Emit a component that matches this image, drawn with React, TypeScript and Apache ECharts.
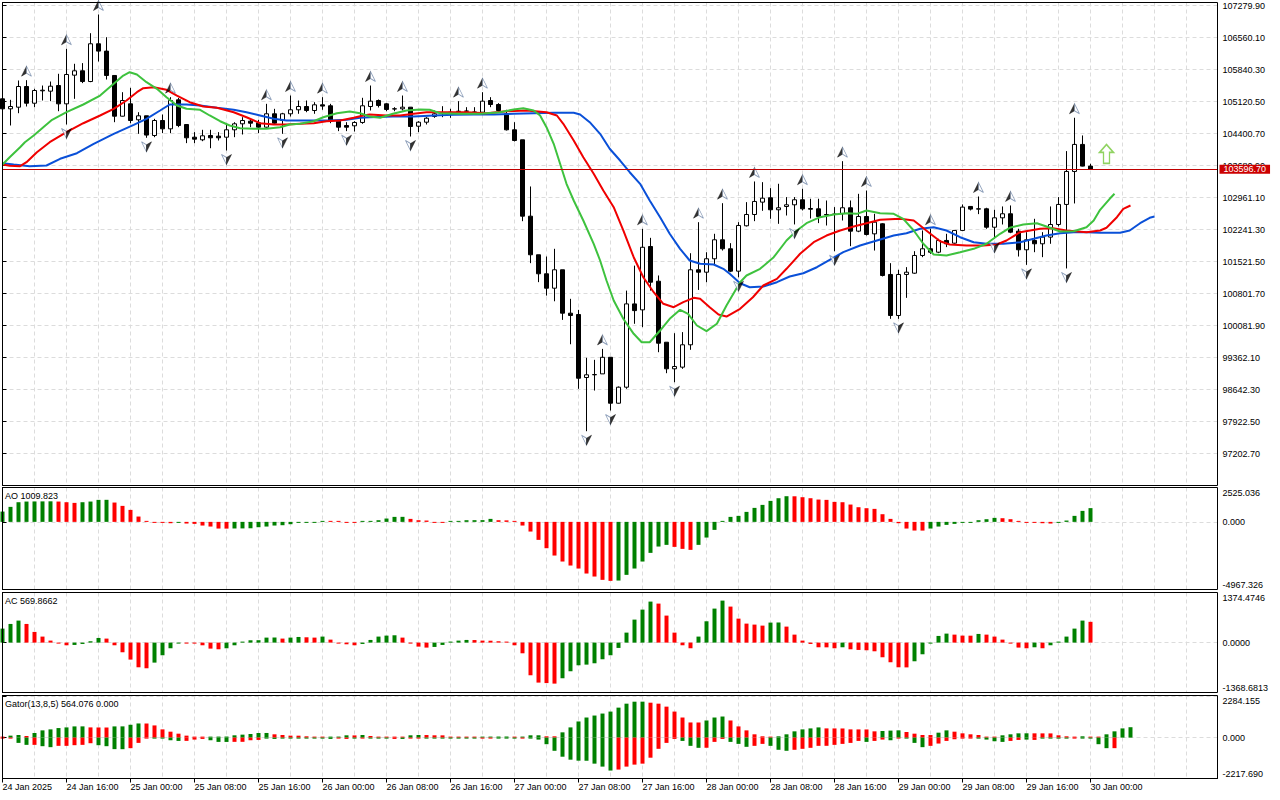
import React, { useEffect, useRef } from "react";
import * as echarts from "echarts";

const FONT = "'Liberation Sans', Arial, sans-serif";
const GREEN = "#008000";
const RED = "#ff0000";

// ---------- time axis ----------
const TIME_LABELS = [
  "24 Jan 2025", "24 Jan 16:00", "25 Jan 00:00", "25 Jan 08:00", "25 Jan 16:00",
  "26 Jan 00:00", "26 Jan 08:00", "26 Jan 16:00", "27 Jan 00:00", "27 Jan 08:00",
  "27 Jan 16:00", "28 Jan 00:00", "28 Jan 08:00", "28 Jan 16:00", "29 Jan 00:00",
  "29 Jan 08:00", "29 Jan 16:00", "30 Jan 00:00",
];
const BARS_PER_LABEL = 8;

// ---------- candles (H1) ----------
const OPEN = [
  105181, 104956, 104993, 105458, 105082, 105361, 105353, 105480, 105068, 105713,
  105811, 105570, 106419, 106254, 105706, 104790, 105068, 104709, 104799, 104356,
  104693, 104506, 105158, 104603, 104318, 104259, 104356, 104341, 104318, 104484,
  104619, 104678, 104641, 104543, 104844, 104693, 104844, 104934, 105008, 104918,
  105046, 105024, 104678, 104581, 104574, 104649, 105008, 105143, 105068, 104956,
  104956, 104993, 104565, 104655, 104783, 104857, 104873, 104896, 104902, 104880,
  104880, 105143, 105053, 104844, 104484, 104259, 102541, 101673, 101245, 100921,
  101335, 100359, 100329, 98912, 98973, 98994, 99367, 98334, 98694, 100568,
  100434, 101859, 101078, 99706, 99108, 99145, 99648, 101335, 101281, 101583,
  102010, 101808, 101304, 102325, 102579, 102857, 102955, 102685, 102759, 102797,
  102910, 102714, 102707, 102579, 102579, 102595, 102730, 102204, 102534, 102144,
  102370, 101230, 100307, 101230, 101259, 101657, 101808, 101731, 101995, 101934,
  102220, 102760, 102707, 102707, 102293, 102504, 102595, 102204, 101785, 101995,
  101920, 102070, 102354, 102805, 103547, 104155, 103667,
];
const HIGH = [
  105204, 105158, 105593, 105600, 105406, 105480, 105570, 105744, 106306, 105969,
  105984, 106657, 107078, 106567, 105706, 105330, 105428, 104880, 104799, 104731,
  104828, 105218, 105200, 104603, 104432, 104484, 104484, 104432, 104603, 104655,
  104768, 104731, 104709, 105068, 104956, 104866, 105255, 105143, 105143, 105105,
  105218, 105068, 104693, 104655, 104678, 105204, 105480, 105166, 105083, 104993,
  105255, 104993, 104678, 104768, 104918, 105015, 104956, 105128, 104993, 104993,
  105330, 105218, 105083, 104934, 104655, 104259, 103209, 101673, 101634, 101807,
  101335, 100682, 100434, 99355, 99310, 99556, 99367, 98710, 100867, 101429,
  102256, 102054, 101207, 99706, 99909, 99933, 101708, 102406, 101730, 102145,
  102833, 101934, 102406, 102857, 103322, 103306, 103171, 103270, 102970, 102970,
  103158, 102933, 102933, 102894, 102745, 103778, 102894, 103044, 103118, 102594,
  102384, 101484, 101335, 101395, 101754, 102220, 102258, 102032, 102145, 102220,
  102805, 102760, 102984, 102730, 102685, 102760, 102782, 102258, 102181, 102482,
  102181, 102760, 102970, 104005, 104755, 104357, 103720,
];
const LOW = [
  104941, 104581, 104857, 105008, 104993, 105143, 105128, 104902, 104603, 105181,
  105534, 105555, 106020, 105615, 104655, 104783, 104632, 104394, 104304, 104318,
  104409, 104409, 104543, 104184, 104184, 104228, 104070, 104243, 104018, 104318,
  104378, 104543, 104409, 104529, 104603, 104394, 104783, 104844, 104880, 104844,
  104934, 104633, 104454, 104454, 104446, 104619, 104918, 104986, 104902, 104902,
  104918, 104333, 104430, 104603, 104754, 104768, 104754, 104844, 104844, 104844,
  104857, 104993, 104880, 104468, 104221, 102428, 101484, 101057, 100755, 100627,
  100208, 99660, 98658, 97704, 98619, 98994, 98169, 98327, 98658, 100120,
  100045, 100867, 99481, 99009, 98806, 99108, 99535, 100882, 101055, 101453,
  101768, 101282, 101166, 102309, 102429, 102662, 102482, 102369, 102556, 102355,
  102670, 102489, 102385, 102331, 101752, 102444, 101866, 102181, 102106, 101768,
  101185, 100232, 100232, 100704, 101245, 101619, 101694, 101709, 101845, 101920,
  102204, 102670, 102587, 102257, 102032, 102354, 102159, 101633, 101446, 101731,
  101619, 101920, 102309, 101365, 102827, 103660, 103596.7,
];
const CLOSE = [
  104956, 105008, 105458, 105082, 105368, 105375, 105465, 105068, 105728, 105811,
  105570, 106419, 106254, 105706, 104790, 105143, 104693, 104799, 104365, 104693,
  104506, 105143, 104581, 104304, 104273, 104349, 104304, 104304, 104484, 104619,
  104693, 104633, 104543, 104844, 104633, 104844, 104934, 105008, 104918, 105046,
  105017, 104693, 104543, 104543, 104649, 105024, 105128, 105031, 104941, 104952,
  104993, 104558, 104655, 104745, 104844, 104866, 104880, 104902, 104906, 104884,
  105128, 105053, 104918, 104484, 104243, 102541, 101673, 101245, 100921, 101335,
  100359, 100307, 98896, 98973, 98979, 99367, 98334, 98694, 100568, 100417,
  101842, 101056, 99684, 99108, 99160, 99648, 101335, 101281, 101583, 102010,
  101808, 101304, 102332, 102579, 102872, 102946, 102685, 102730, 102797, 102910,
  102707, 102698, 102534, 102570, 102590, 102730, 102204, 102534, 102129, 102406,
  101207, 100307, 101230, 101281, 101657, 101808, 101731, 101995, 101920, 102220,
  102745, 102700, 102700, 102293, 102504, 102595, 102181, 101785, 102010, 101920,
  102070, 102354, 102805, 103547, 104155, 103667, 103596.7,
];
const LAST_PRICE = 103596.7;

// ---------- Bill Williams fractals (bar indices) ----------
const FRACTAL_UP_BARS = [3, 8, 12, 21, 33, 36, 40, 46, 50, 57, 60, 75, 80, 87, 90, 94, 100, 105, 108, 116, 122, 126, 134];
const FRACTAL_DOWN_BARS = [8, 18, 28, 35, 43, 51, 73, 76, 84, 92, 99, 104, 112, 124, 128, 133];
const SIGNAL_UP = [[138, 103940]];

// ---------- Alligator [bar, price] ----------
const JAW = [
  [0, 103733], [1.4, 103703], [3.4, 103666], [5.5, 103681], [7.2, 103832], [9.3, 103958], [11.4, 104169],
  [13.9, 104394], [16.4, 104596], [18, 104731], [19.7, 104918], [20.9, 105053], [23, 105053], [24.7, 105031],
  [26.8, 104979], [28.9, 104934], [30.5, 104880], [32.2, 104806], [33.9, 104731], [35.5, 104693], [37.2, 104693],
  [39.3, 104693], [40.9, 104693], [43, 104709], [44.7, 104754], [45.9, 104767], [48.8, 104783], [51.4, 104783],
  [53.9, 104806], [56.4, 104821], [58.9, 104828], [61.4, 104828], [63.9, 104844], [66.4, 104857], [68.9, 104866],
  [71.4, 104866], [72.2, 104828], [73.4, 104655], [74.7, 104394], [75.9, 104057], [77.2, 103793], [78.4, 103530],
  [79.7, 103269], [80.9, 102894], [82.2, 102518], [83.4, 102145], [84.7, 101807], [85.9, 101544], [87.2, 101470],
  [88.9, 101454], [90.1, 101357], [90.9, 101245], [92.2, 101033], [93.4, 100943], [95.1, 100959], [96.8, 101056],
  [98.4, 101184], [100.1, 101258], [101.8, 101393], [103.4, 101560], [105.1, 101731], [107.2, 101881], [109.3, 101994],
  [111.4, 102106], [113, 102158], [114.7, 102257], [116.4, 102293], [118, 102219], [119.7, 102068], [121.4, 101956],
  [123, 101920], [125.1, 101920], [127.2, 101956], [128.9, 102032], [130.5, 102106], [132.2, 102158], [133.9, 102181],
  [135.5, 102181], [137.2, 102167], [139.7, 102167], [140.9, 102219], [142.2, 102383], [143.4, 102504], [144, 102534],
];
const TEETH = [
  [0, 103703], [0.9, 103674], [2.2, 103666], [3, 103755], [4.3, 103980], [5.9, 104205], [8, 104430], [10.1, 104632],
  [12.2, 104806], [13.9, 104956], [15.5, 105143], [16.8, 105330], [17.6, 105420], [18.9, 105442], [20.5, 105384],
  [21.8, 105255], [23.4, 105105], [25.1, 105008], [26.8, 104979], [28.9, 104880], [30.5, 104767], [32.2, 104632],
  [33.9, 104603], [35.5, 104603], [37.2, 104619], [38.9, 104632], [40.5, 104677], [42.2, 104693], [43.9, 104754],
  [45.1, 104806], [45.9, 104828], [48, 104806], [49.7, 104806], [51.4, 104844], [53, 104880], [55.5, 104880],
  [58, 104880], [60.5, 104857], [63, 104902], [65.5, 104918], [68, 104880], [69.3, 104806], [70.1, 104619],
  [71.4, 104243], [72.6, 103868], [73.9, 103494], [75.1, 103119], [76.4, 102743], [77.6, 102220], [78.9, 101618],
  [80.1, 101168], [81.4, 100831], [82.6, 100570], [83.9, 100493], [85.1, 100606], [86.4, 100705], [87.2, 100682],
  [88.4, 100493], [89.5, 100329], [90.5, 100284], [92.2, 100457], [93.8, 100718], [95.1, 100982], [96.8, 101132],
  [98, 101357], [99.7, 101695], [101.4, 101956], [103, 102106], [104.7, 102219], [106.4, 102309], [108, 102383],
  [109.7, 102459], [112.2, 102482], [113.9, 102444], [114.7, 102331], [115.9, 102158], [117.2, 101978], [118.4, 101904],
  [120.5, 101881], [122.6, 101881], [124.3, 101904], [125.5, 101994], [127.2, 102181], [129.7, 102257], [131.3, 102271],
  [133, 102219], [135.5, 102181], [137.2, 102219], [138, 102280], [139.3, 102518], [140.1, 102707], [141, 102781],
];
const LIPS = [
  [0, 103703], [0.9, 103868], [2.2, 104092], [2.8, 104205], [3.9, 104356], [5.1, 104542], [6.2, 104709], [8, 104880],
  [10.1, 105053], [12.2, 105255], [13.9, 105519], [15.1, 105705], [15.9, 105780], [16.8, 105728], [18, 105555],
  [19.3, 105406], [20.5, 105217], [21.8, 105031], [23, 104956], [24.7, 104934], [25.9, 104806], [27.2, 104677],
  [28.4, 104581], [29.7, 104520], [31.4, 104506], [33, 104506], [34.7, 104542], [35.9, 104603], [37.2, 104619],
  [38.9, 104677], [40.1, 104767], [41.8, 104857], [43.4, 104896], [44.7, 104857], [45.9, 104783], [47.2, 104754],
  [48.8, 104844], [50.5, 104918], [52.2, 104941], [53.4, 104934], [54.7, 104857], [57.2, 104844], [59.7, 104844],
  [62.2, 104880], [63.9, 104941], [65.1, 104970], [66.4, 104918], [67.2, 104806], [68, 104542], [68.9, 104169],
  [69.7, 103719], [70.5, 103269], [71.4, 102894], [72.6, 102444], [73.9, 101920], [74.7, 101544], [75.5, 101094],
  [76.4, 100644], [77.6, 100233], [78.9, 99895], [79.9, 99706], [80.9, 99706], [82.2, 99969], [83.4, 100233],
  [84.7, 100435], [85.7, 100345], [86.8, 100082], [88, 99954], [89.3, 100120], [90.5, 100532], [92.2, 101056],
  [93, 101207], [94.7, 101357], [96.4, 101618], [98, 101994], [99.3, 102219], [100.5, 102383], [102.2, 102518],
  [103.9, 102579], [105.5, 102608], [106.8, 102593], [108, 102669], [109.7, 102608], [111.4, 102593], [112.6, 102482],
  [113.9, 102219], [115.1, 101920], [116.4, 101679], [118, 101656], [119.7, 101731], [121.4, 101807], [123, 101920],
  [124.7, 102145], [125.9, 102280], [127.6, 102354], [129.3, 102383], [130.5, 102309], [132.2, 102196], [133.9, 102203],
  [135.5, 102293], [136.4, 102444], [137.2, 102684], [138.4, 102932], [139, 103044],
];

// ---------- Awesome Oscillator ----------
const AO = [
  757, 1102, 1444, 1493, 1500, 1505, 1510, 1493, 1444, 1395,
  1444, 1493, 1616, 1620, 1420, 1175, 881, 392, 73, -24,
  -73, -98, -20, -122, -147, -269, -343, -490, -495, -485,
  -480, -470, -392, -343, -269, -245, -171, -24, -20, -18,
  73, 70, 60, 0, -24, 24, 73, 122, 245, 367,
  370, 220, 122, 98, 0, -24, 49, 60, 122, 125,
  128, 220, 122, 110, 49, -269, -710, -1322, -1934, -2473,
  -2913, -3207, -3427, -3794, -4015, -4259, -4333, -4309, -3892, -3427,
  -2913, -2277, -1812, -1689, -1836, -1983, -2056, -1689, -1151, -588,
  73, 367, 441, 734, 1028, 1248, 1542, 1738, 1885, 1880,
  1812, 1738, 1640, 1616, 1469, 1444, 1273, 1077, 1004, 955,
  563, 220, -98, -490, -636, -640, -490, -343, -220, -147,
  -73, -24, 122, 196, 294, 269, 196, 49, -49, -55,
  -98, -122, -24, 98, 441, 808, 1010,
];
const AO_COLORS =
  "gggggggrrr" + "ggggrrrrrr" + "rrgrrrrrrg" + "gggggggggg" + "grrrrggggg" +
  "grrrrrgggg" + "ggrrrrrrrr" + "rrrrrrrggg" + "ggggrrrggg" + "gggggggggr" +
  "rrrrrrrrrr" + "rrrrrrgggg" + "gggggrrrrr" + "rrggggg";
const AO_LABEL = "AO 1009.823";

// ---------- Accelerator Oscillator ----------
const AC = [
  384, 512, 604, 512, 293, 165, 55, -5, -73, -64,
  -37, 37, 128, 110, -73, -265, -466, -677, -704, -549,
  -347, -155, -9, -12, -18, -73, -165, -183, -155, -73,
  0, 64, 66, 137, 140, 110, 137, 155, 146, 137,
  165, 82, -18, -46, -73, -37, 73, 165, 192, 201,
  137, -18, -110, -137, -119, -64, 0, 55, 73, 70,
  55, 52, 37, 0, -73, -293, -896, -1097, -1110, -1125,
  -978, -786, -622, -604, -567, -457, -347, -146, 274, 631,
  905, 1125, 1070, 741, 274, -73, -155, 165, 585, 933,
  1152, 988, 658, 521, 494, 466, 549, 552, 439, 219,
  55, -37, -128, -130, -155, -128, -183, -201, -210, -238,
  -402, -539, -677, -680, -512, -320, -18, 183, 247, 219,
  192, 190, 238, 219, 165, 82, -27, -137, -155, -128,
  -155, -73, 18, 165, 384, 604, 570,
];
const AC_COLORS =
  "gggrrrrrrg" + "gggrrrrrrg" + "gggrrrrrgg" + "gggggrggrr" + "grrrrggggg" +
  "rrrrgggggr" + "rrrrrrrrrr" + "gggggggggg" + "ggrrrrrggg" + "grrrrrggrr" +
  "rrrrrgrrrr" + "rrrrgggggr" + "rrgrrrrrrg" + "rgggggr";
const AC_LABEL = "AC 569.8662";

// ---------- Gator Oscillator ----------
const GATOR_UP = [
  54, 107, 143, 89, 250, 393, 447, 518, 554, 608,
  610, 554, 550, 548, 608, 610, 697, 768, 765, 661,
  447, 322, 214, 107, 54, 18, 54, 56, 58, 125,
  161, 197, 250, 252, 179, 143, 107, 105, 71, 54,
  36, 54, 56, 125, 120, 143, 89, 54, 52, 36,
  34, 125, 143, 140, 125, 123, 54, 52, 36, 34,
  54, 56, 58, 60, 54, 56, 125, 127, 71, 71,
  286, 554, 876, 1090, 1197, 1305, 1412, 1626, 1841, 1948,
  1950, 1894, 1841, 1680, 1412, 1090, 822, 820, 929, 1090,
  1144, 929, 608, 393, 179, 71, 18, 71, 179, 340,
  447, 500, 554, 500, 498, 496, 447, 445, 443, 340,
  360, 380, 395, 304, 214, 143, 140, 268, 393, 322,
  232, 179, 143, 54, 40, 125, 179, 232, 234, 232,
  230, 228, 125, 71, 18, 71, 54, 18, 179, 340,
  500, 564,
];
const GATOR_UP_COLORS =
  "rggrgggggg" + "grrrggggrr" + "rrrrrrgggg" + "ggggrrrrrr" + "rgggrgrrrr" +
  "rggrrrrrrr" + "ggggrgggrr" + "gggggggggg" + "grrrrrrrgg" + "grrrrrrggg" +
  "gggrrrrrrr" + "gggrrrrggr" + "rrrrrggggr" + "rrrrrgrrgg" + "gg";
const GATOR_DOWN = [
  -54, -36, -286, -393, -393, -465, -518, -447, -447, -411,
  -393, -304, -411, -465, -625, -628, -572, -286, -36, -10,
  -36, -143, -179, -177, -107, -71, -143, -232, -234, -230,
  -228, -143, -125, -54, -71, -54, -36, -36, -54, -36,
  -54, -71, -36, -71, -36, -36, -36, -36, -54, -71,
  -71, -36, -36, -36, -36, -36, -36, -36, -36, -36,
  -36, -36, -18, -18, -18, -36, -36, -107, -357, -715,
  -1036, -1197, -1251, -1255, -1412, -1573, -1787, -1733, -1573, -1465,
  -1412, -1090, -608, -286, -71, -179, -447, -554, -550, -232,
  -71, -232, -340, -500, -447, -340, -447, -661, -715, -661,
  -608, -554, -447, -445, -393, -340, -286, -179, -232, -179,
  -107, -143, -36, -54, -286, -518, -447, -322, -179, -89,
  -36, -30, -36, -107, -197, -232, -179, -125, -107, -125,
  -18, -36, -18, -18, -18, -18, -54, -357, -572, -572,
];
const GATOR_DOWN_COLORS =
  "rrggrggrrr" + "rrggggrrrg" + "gggrrrgggr" + "rrrggggggg" + "ggrrgrgggr" +
  "grrggggggg" + "rrgggrgggg" + "gggggggrrr" + "rrrrrgggrr" + "rgggrrgggr" +
  "rrrrrrrrgr" + "rgrgggrrrr" + "rrggggrrgr" + "ggggrggggr";
const GATOR_LABEL = "Gator(13,8,5) 564.076 0.000";

// ---------- axis scales (price / oscillator ranges as shown on the right scale) ----------
const PRICE_MIN = 96482.9;
const PRICE_MAX = 107347.5;
const PRICE_STEP = 719.8;
const AO_MIN = -4967.326, AO_MAX = 2525.036;
const AC_MIN = -1368.6813, AC_MAX = 1374.4746;
const GT_MIN = -2217.69, GT_MAX = 2284.155;
const VISIBLE_BARS = 151.875;

const labelText = { fontSize: 9, fontFamily: FONT, color: "#000" };

function edgeFormatter(min: number, max: number, digits: number) {
  return (v: number) => {
    if (Math.abs(v - max) < 0.01) return `{t|${v.toFixed(digits)}}`;
    if (Math.abs(v - min) < 0.01) return `{b|${v.toFixed(digits)}}`;
    if (Math.abs(v) < 0.01) return (0).toFixed(digits);
    return "";
  };
}

const dashed = { color: "#dcdcdc", type: [4, 3] as any, width: 1 };

function oscYAxis(gridIndex: number, min: number, max: number, digits: number) {
  return {
    gridIndex,
    type: "value",
    position: "right",
    min,
    max,
    interval: -min,
    axisLine: { show: true, lineStyle: { color: "#000" } },
    axisTick: { show: true, length: 4, lineStyle: { color: "#000" } },
    axisLabel: {
      ...labelText,
      margin: 5,
      formatter: edgeFormatter(min, max, digits),
      rich: {
        t: { ...labelText, padding: [10, 0, 0, 0] },
        b: { ...labelText, padding: [0, 0, 9, 0] },
      },
    },
    splitLine: { show: true, showMinLine: false, showMaxLine: false, lineStyle: dashed },
  };
}

function plainXAxis(gridIndex: number) {
  return {
    gridIndex,
    type: "value",
    min: 0,
    max: VISIBLE_BARS,
    interval: 4,
    axisLine: { show: false },
    axisTick: { show: false },
    axisLabel: { show: false },
    splitLine: { show: true, showMinLine: false, showMaxLine: false, lineStyle: dashed },
  };
}

function colored(values: number[], colors: string) {
  return values.map((v, i) => ({
    value: [i, v],
    itemStyle: { color: colors[i] === "g" ? GREEN : RED },
  }));
}

export default function App() {
  const ref = useRef<HTMLDivElement>(null);

  useEffect(() => {
    if (!ref.current) return;
    const chart = echarts.init(ref.current, null, { renderer: "svg" });

    const gridBase = {
      left: 2.5,
      width: 1215,
      show: true,
      borderColor: "#000",
      borderWidth: 1,
      backgroundColor: "transparent",
      z: 10,
      outerBoundsMode: "none",
      containLabel: false,
    };

    const labelTicks = TIME_LABELS.map((_, k) => k * BARS_PER_LABEL);

    const candleData = OPEN.map((o, i) => [i, o, CLOSE[i], LOW[i], HIGH[i]]);
    const upData = FRACTAL_UP_BARS.map((i) => [i, HIGH[i]]);
    const dnData = FRACTAL_DOWN_BARS.map((i) => [i, LOW[i]]);

    const halfLight = { color: "#ffffff", borderColor: "#6f86a8", borderWidth: 0.8 };
    const halfDark = { color: "#000000", borderColor: "#000000", borderWidth: 0.5 };

    const option: any = {
      animation: false,
      backgroundColor: "#ffffff",
      textStyle: { fontFamily: FONT },
      title: [
        { text: AO_LABEL, left: 5, top: 491, padding: 0, textStyle: { ...labelText, fontWeight: "normal" } },
        { text: AC_LABEL, left: 5, top: 596, padding: 0, textStyle: { ...labelText, fontWeight: "normal" } },
        { text: GATOR_LABEL, left: 5, top: 699, padding: 0, textStyle: { ...labelText, fontWeight: "normal" } },
      ],
      grid: [
        { ...gridBase, top: 2.5, height: 483 },
        { ...gridBase, top: 487.5, height: 102 },
        { ...gridBase, top: 592.5, height: 100 },
        { ...gridBase, top: 695.5, height: 83 },
      ],
      xAxis: [
        plainXAxis(0),
        plainXAxis(1),
        plainXAxis(2),
        plainXAxis(3),
        {
          gridIndex: 3,
          type: "value",
          position: "bottom",
          min: 0,
          max: VISIBLE_BARS,
          interval: BARS_PER_LABEL,
          axisLine: { show: true, lineStyle: { color: "#000" } },
          axisTick: { show: true, length: 4, lineStyle: { color: "#000" }, customValues: labelTicks },
          axisLabel: {
            ...labelText,
            show: true,
            align: "left",
            margin: 4,
            customValues: labelTicks,
            formatter: (v: number) => {
              const k = Math.round(v / BARS_PER_LABEL);
              return Math.abs(v - k * BARS_PER_LABEL) < 1e-6 && TIME_LABELS[k] ? TIME_LABELS[k] : "";
            },
          },
          splitLine: { show: false },
        },
      ],
      yAxis: [
        {
          gridIndex: 0,
          type: "value",
          position: "right",
          min: PRICE_MIN,
          max: PRICE_MAX,
          interval: PRICE_STEP,
          axisLine: { show: true, lineStyle: { color: "#000" } },
          axisTick: { show: true, length: 4, lineStyle: { color: "#000" } },
          axisLabel: {
            ...labelText,
            margin: 5,
            showMinLabel: false,
            showMaxLabel: false,
            formatter: (v: number) => v.toFixed(2),
          },
          splitLine: { show: true, showMinLine: false, showMaxLine: false, lineStyle: dashed },
        },
        oscYAxis(1, AO_MIN, AO_MAX, 3),
        oscYAxis(2, AC_MIN, AC_MAX, 4),
        oscYAxis(3, GT_MIN, GT_MAX, 3),
      ],
      series: [
        {
          type: "candlestick",
          xAxisIndex: 0,
          yAxisIndex: 0,
          data: candleData,
          encode: { x: 0, y: [1, 2, 3, 4] },
          barWidth: 4,
          z: 2,
          itemStyle: {
            color: "#ffffff",
            color0: "#000000",
            borderColor: "#000000",
            borderColor0: "#000000",
            borderColorDoji: "#000000",
            borderWidth: 1,
          },
          markLine: {
            silent: true,
            symbol: ["none", "none"],
            animation: false,
            lineStyle: { color: "#c00000", width: 1, type: "solid" },
            label: {
              show: true,
              position: "end",
              distance: 2,
              formatter: LAST_PRICE.toFixed(2),
              ...labelText,
              color: "#ffffff",
              backgroundColor: "#cc0000",
              padding: [0, 4, 0, 4],
              lineHeight: 9,
            },
            data: [{ yAxis: LAST_PRICE }],
          },
        },
        {
          type: "line",
          name: "Jaw",
          xAxisIndex: 0,
          yAxisIndex: 0,
          data: JAW,
          showSymbol: false,
          symbol: "none",
          z: 3,
          lineStyle: { color: "#0a50d8", width: 2 },
        },
        {
          type: "line",
          name: "Teeth",
          xAxisIndex: 0,
          yAxisIndex: 0,
          data: TEETH,
          showSymbol: false,
          symbol: "none",
          z: 3,
          lineStyle: { color: "#f00000", width: 2 },
        },
        {
          type: "line",
          name: "Lips",
          xAxisIndex: 0,
          yAxisIndex: 0,
          data: LIPS,
          showSymbol: false,
          symbol: "none",
          z: 3,
          lineStyle: { color: "#3ec23e", width: 2 },
        },
        {
          type: "scatter",
          xAxisIndex: 0,
          yAxisIndex: 0,
          data: upData,
          symbol: "path://M5,0L5,7L0,10Z",
          symbolSize: [5, 10],
          symbolOffset: [-2.5, -9],
          itemStyle: halfDark,
          z: 4,
        },
        {
          type: "scatter",
          xAxisIndex: 0,
          yAxisIndex: 0,
          data: upData,
          symbol: "path://M5,0L10,10L5,7Z",
          symbolSize: [5, 10],
          symbolOffset: [2.5, -9],
          itemStyle: halfLight,
          z: 4,
        },
        {
          type: "scatter",
          xAxisIndex: 0,
          yAxisIndex: 0,
          data: dnData,
          symbol: "path://M0,0L5,3L5,10Z",
          symbolSize: [5, 10],
          symbolOffset: [-2.5, 9],
          itemStyle: halfLight,
          z: 4,
        },
        {
          type: "scatter",
          xAxisIndex: 0,
          yAxisIndex: 0,
          data: dnData,
          symbol: "path://M5,3L10,0L5,10Z",
          symbolSize: [5, 10],
          symbolOffset: [2.5, 9],
          itemStyle: halfDark,
          z: 4,
        },
        {
          type: "scatter",
          xAxisIndex: 0,
          yAxisIndex: 0,
          data: SIGNAL_UP,
          symbol: "path://M7,0L14,8L10,8L10,19L4,19L4,8L0,8Z",
          symbolSize: [14, 19],
          itemStyle: { color: "#ffffff", borderColor: "#74c83a", borderWidth: 1.5 },
          z: 4,
        },
        {
          type: "bar",
          xAxisIndex: 1,
          yAxisIndex: 1,
          barWidth: 4,
          barMinHeight: 1,
          data: colored(AO, AO_COLORS),
        },
        {
          type: "bar",
          xAxisIndex: 2,
          yAxisIndex: 2,
          barWidth: 4,
          barMinHeight: 1,
          data: colored(AC, AC_COLORS),
        },
        {
          type: "bar",
          xAxisIndex: 4,
          yAxisIndex: 3,
          barWidth: 4,
          barMinHeight: 1,
          data: [...colored(GATOR_UP, GATOR_UP_COLORS), ...colored(GATOR_DOWN, GATOR_DOWN_COLORS)],
        },
      ],
    };

    chart.setOption(option);
    return () => chart.dispose();
  }, []);

  return (
    <div
      ref={ref}
      style={{ position: "absolute", left: 0, top: 0, width: 1280, height: 800, background: "#fff" }}
    />
  );
}
